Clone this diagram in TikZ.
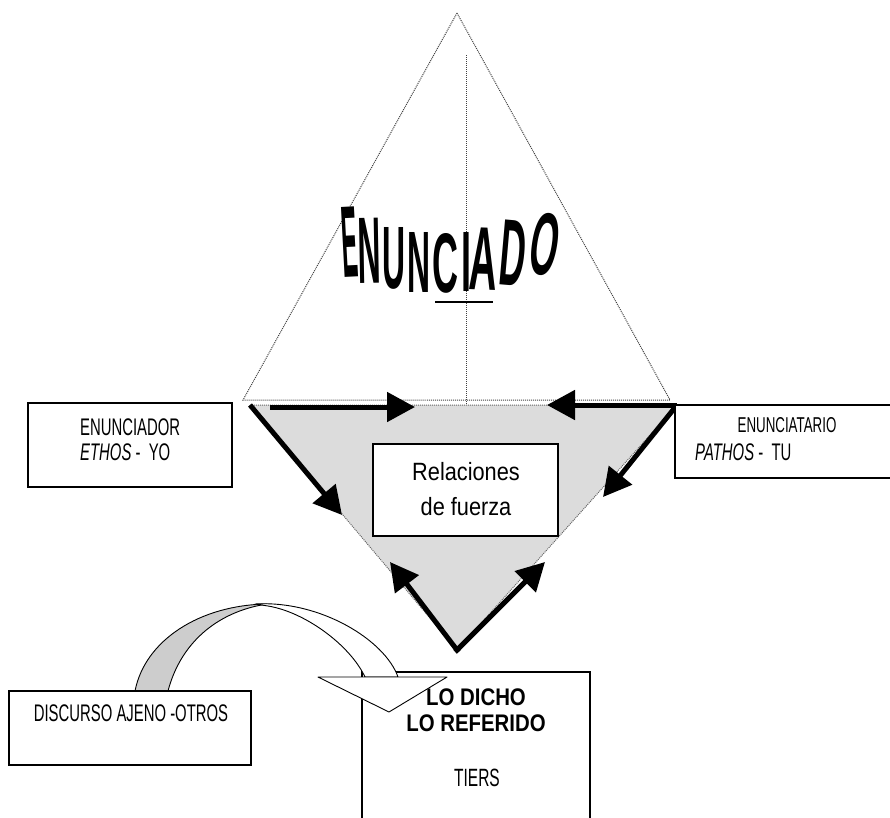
\documentclass[tikz,border=0pt]{standalone}
\usepackage{fontspec}
\setmainfont{Liberation Sans}
\newfontfamily\fA[FakeStretch=0.62]{Liberation Sans}
\newfontfamily\fB[FakeStretch=0.87]{Liberation Sans}
\newfontfamily\fC[FakeStretch=0.85]{Liberation Sans}
\newfontfamily\fW[FakeStretch=0.9]{Liberation Sans}
\usetikzlibrary{arrows.meta}
\definecolor{trigray}{RGB}{220,220,220}
\definecolor{bandgray}{RGB}{205,205,205}
\tikzset{
  dotline/.style={densely dotted, line width=1pt, black!75},
  boxnode/.style={draw=black, line width=1.8pt, fill=white, inner sep=0pt},
  txt/.style={inner sep=0pt, font=\fA\fontsize{24}{26}\selectfont},
  bigarrow/.style={line width=5pt, -{Triangle[length=28pt,width=29pt]}},
  letter/.style={inner sep=0pt},
  band/.style={draw=black, line width=0.9pt, line join=round}
}
\newcommand{\ltr}[3]{\resizebox{#1pt}{#2pt}{\fW\bfseries #3}}
\begin{document}
\begin{tikzpicture}[x=1pt,y=-1pt]
\useasboundingbox (0,0) rectangle (890,817);
% key points
\coordinate (apex) at (457,13);
\coordinate (bl) at (243,400);
\coordinate (br) at (670,400);
\coordinate (vt) at (466,55);
\coordinate (vb) at (466,405);
\coordinate (L) at (250,405);
\coordinate (R) at (677,405);
\coordinate (B) at (457,650);
% gray inverted triangle
\fill[trigray] (L) -- (R) -- (B) -- cycle;
\draw[dotline, black!60] (L) -- (R) -- (B) -- cycle;
% big dotted triangle
\draw[dotline] (apex) -- (br) -- (bl) -- cycle;
\draw[dotline] (vt) -- (vb);
% ENUNCIADO
\node[letter, rotate=3]  (e1) at (350,242) {\ltr{16}{70}{E}};
\node[letter, rotate=1]  (e2) at (369,251) {\ltr{23}{65}{N}};
\node[letter]            (e3) at (394,258) {\ltr{23}{61}{U}};
\node[letter]            (e4) at (419,262) {\ltr{23}{60}{N}};
\node[letter]            (e5) at (445,263) {\ltr{26}{59}{C}};
\node[letter]            (e6) at (466,262) {\ltr{10}{59}{I}};
\node[letter, rotate=-2] (e7) at (484,259) {\ltr{28}{62}{A}};
\node[letter, rotate=-5] (e8) at (513,253) {\ltr{26}{65}{D}};
\node[letter, rotate=-9] (e9) at (545,244) {\ltr{28}{62}{O}};
\coordinate (u1) at (435,302);
\coordinate (u2) at (493,302);
\draw[line width=1.5pt] (u1) -- (u2);
% arrows
\coordinate (t1) at (415,407);
\coordinate (s1) at (270,407);
\coordinate (t2) at (547,405);
\coordinate (t3) at (342,515);
\coordinate (t4) at (603,497);
\coordinate (t5) at (390,562);
\coordinate (t6) at (545,562);
\draw[bigarrow] (s1) -- (t1);
\draw[bigarrow] (R) -- (t2);
\draw[bigarrow] (L) -- (t3);
\draw[bigarrow] (R) -- (t4);
\draw[bigarrow, line cap=rect] (B) -- (t5);
\draw[bigarrow, line cap=rect] (B) -- (t6);
% boxes
\node[boxnode, minimum width=204pt, minimum height=84pt] (yo) at (130,445) {};
\node[txt, anchor=west] (yo1) at (80,427) {ENUNCIADOR};
\node[txt, anchor=west] (yo2) at (80,452) {\textit{ETHOS} -\ \ YO};
\node[boxnode, minimum width=225pt, minimum height=73pt] (tu) at (787.5,441.5) {};
\node[txt, font=\fA\fontsize{21.5}{24}\selectfont] (tu1) at (787,425) {ENUNCIATARIO};
\node[txt, anchor=west] (tu2) at (695,452) {\textit{PATHOS} -\ \ TU};
\node[boxnode, minimum width=185pt, minimum height=92pt] (rel) at (465.5,490) {};
\node[inner sep=0pt, font=\fB\fontsize{25}{35}\selectfont, align=center] (relt) at (466,489) {Relaciones\\de fuerza};
% lo dicho box
\node[boxnode, minimum width=228pt, minimum height=160pt] (dicho) at (476,752) {};
\node[inner sep=0pt, font=\fC\bfseries\fontsize{24}{26}\selectfont, align=center] (dicho1) at (476,710) {LO DICHO\\LO REFERIDO};
\node[txt, font=\fA\fontsize{25}{26}\selectfont] (tiers) at (477,778) {TIERS};
% curved block arrow
\coordinate (c1) at (135,691);
\coordinate (c2) at (168,691);
\coordinate (ctop) at (267,604);
\coordinate (c3) at (255,604);
\coordinate (c4) at (268,606);
\coordinate (c5) at (398,677);
\coordinate (c6) at (365,677);
\coordinate (h1) at (318,677);
\coordinate (h2) at (447,677);
\coordinate (h3) at (389,712);
\filldraw[band, fill=bandgray] (c1) .. controls (145,640) and (200,605) .. (ctop) .. controls (215,612) and (180,645) .. (c2) -- cycle;
\filldraw[band, fill=white] (c3) .. controls (320,600) and (385,640) .. (c5) -- (c6) .. controls (350,645) and (305,612) .. (c4) -- cycle;
\filldraw[band, fill=white] (h1) -- (h2) -- (h3) -- cycle;
% discurso box
\node[boxnode, minimum width=242pt, minimum height=74pt] (otros) at (130,728) {};
\node[txt] (otrost) at (131,713) {DISCURSO AJENO -OTROS};
\end{tikzpicture}
\end{document}
